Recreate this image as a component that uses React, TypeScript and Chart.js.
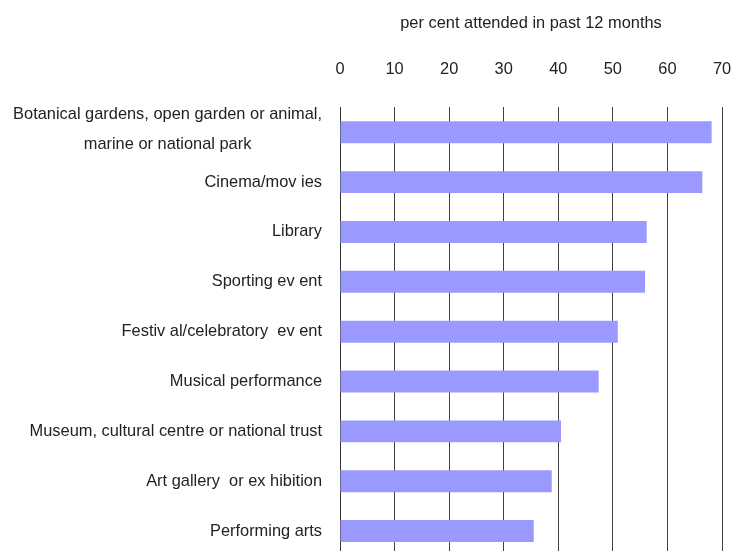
import React, { useEffect, useRef } from "react";
import { Chart, registerables } from "chart.js";

Chart.register(...registerables);

const categories: (string | string[])[] = [
  ["Botanical gardens, open garden or animal,", "marine or national park"],
  "Cinema/mov ies",
  "Library",
  "Sporting ev ent",
  "Festiv al/celebratory  ev ent",
  "Musical performance",
  "Museum, cultural centre or national trust",
  "Art gallery  or ex hibition",
  "Performing arts",
];
const attended = [68.1, 66.4, 56.2, 55.9, 50.9, 47.4, 40.5, 38.8, 35.5];
const xTicks = [0, 10, 20, 30, 40, 50, 60, 70];
const axisTitle = "per cent attended in past 12 months";

const FONT = "'Liberation Sans', Arial, sans-serif";
const FONT_SIZE = 16.4;
const TEXT = "#222222";

export default function App() {
  const ref = useRef<HTMLCanvasElement>(null);
  useEffect(() => {
    document.body.style.margin = "0";
    document.body.style.overflow = "hidden";
    const labelPlugin = {
      id: "yLabels",
      afterDraw(chart: any) {
        const ctx = chart.ctx;
        const ys = chart.scales.y;
        const right = ys.right - 18;
        ctx.save();
        ctx.fillStyle = TEXT;
        ctx.font = `${FONT_SIZE}px ${FONT}`;
        ctx.textBaseline = "middle";
        categories.forEach((lab, i) => {
          const y = ys.getPixelForValue(i);
          const lines = Array.isArray(lab) ? lab : [lab];
          const lh = 30;
          const maxW = Math.max(...lines.map((l) => ctx.measureText(l).width));
          const cx = right - maxW / 2;
          const y0 = y - ((lines.length - 1) * lh) / 2 - (lines.length > 1 ? 3 : 0);
          ctx.textAlign = lines.length > 1 ? "center" : "right";
          lines.forEach((l, j) => {
            ctx.fillText(l, lines.length > 1 ? cx : right, y0 + j * lh);
          });
        });
        ctx.restore();
      },
    };
    const chart = new Chart(ref.current!, {
      type: "bar",
      data: {
        labels: categories.map((c) => (Array.isArray(c) ? c.join(" ") : c)),
        datasets: [
          {
            data: attended,
            backgroundColor: "#9999FF",
            borderWidth: 0,
            barPercentage: 0.44,
            categoryPercentage: 1,
          },
        ],
      },
      options: {
        indexAxis: "y",
        animation: false,
        responsive: false,
        devicePixelRatio: 1,
        layout: { padding: { top: 14, right: 9, left: 0, bottom: 0 } },
        plugins: { legend: { display: false }, tooltip: { enabled: false } },
        scales: {
          x: {
            position: "top",
            min: 0,
            max: 70,
            afterBuildTicks: (s: any) => {
              s.ticks = xTicks.map((v) => ({ value: v }));
            },
            afterFit: (s: any) => {
              s.paddingLeft = 0;
              s.paddingRight = 0;
            },
            grid: { color: "#404040", lineWidth: 1, drawTicks: false },
            border: { display: false },
            ticks: {
              color: TEXT,
              font: { family: FONT, size: FONT_SIZE },
              padding: 28,
              maxRotation: 0,
            },
            title: {
              display: true,
              text: axisTitle,
              color: TEXT,
              font: { family: FONT, size: FONT_SIZE },
              padding: { top: 0, bottom: -2 },
            },
          },
          y: {
            grid: { display: false, drawTicks: false },
            border: { display: true, color: "#333333", width: 1 },
            ticks: { display: false },
            afterFit: (s: any) => {
              s.width = 340;
            },
          },
        },
      },
      plugins: [labelPlugin],
    });
    return () => chart.destroy();
  }, []);
  return (
    <div style={{ position: "fixed", left: 0, top: 0, width: 731, height: 551, overflow: "hidden" }}>
      <canvas ref={ref} width={731} height={556} style={{ display: "block" }} />
    </div>
  );
}
